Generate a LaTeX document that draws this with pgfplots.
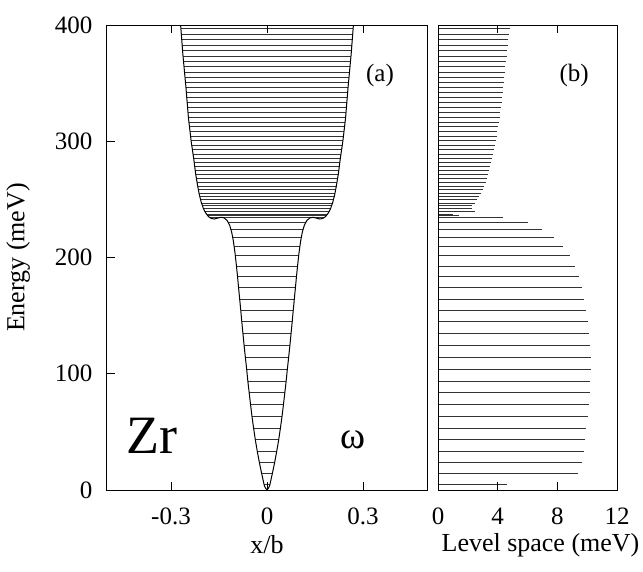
\documentclass[border=0pt]{standalone}
\usepackage{fontspec}
\setmainfont{Liberation Serif}
\usepackage{pgfplots}
\pgfplotsset{compat=1.18}
\usepackage{pgfplotstable}

\pgfplotstableread{
E s
4.64 4.64
14.04 9.40
23.66 9.62
33.42 9.76
43.29 9.87
53.22 9.93
63.26 10.04
73.37 10.11
83.55 10.18
93.77 10.22
104.01 10.24
114.25 10.24
124.45 10.20
134.58 10.13
144.62 10.04
154.53 9.91
164.33 9.80
173.97 9.64
183.41 9.44
192.57 9.16
201.41 8.84
209.77 8.36
217.53 7.76
224.51 6.98
230.53 6.02
234.89 4.36
236.29 1.40
237.31 1.02
239.82 2.51
242.13 2.31
244.44 2.31
246.95 2.51
249.59 2.64
252.35 2.76
255.26 2.91
258.28 3.02
261.39 3.11
264.59 3.20
267.88 3.29
271.24 3.36
274.64 3.40
278.11 3.47
281.69 3.58
285.33 3.64
289.04 3.71
292.80 3.76
296.62 3.82
300.49 3.87
304.42 3.93
308.40 3.98
312.42 4.02
316.49 4.07
320.62 4.13
324.80 4.18
329.02 4.22
333.29 4.27
337.60 4.31
341.93 4.33
346.31 4.38
350.71 4.40
355.15 4.44
359.64 4.49
364.15 4.51
368.71 4.56
373.31 4.60
377.95 4.64
382.62 4.67
387.31 4.69
392.04 4.73
396.84 4.80
}\levels

\pgfplotstableread{
x V
-0.5 440
-0.28 430
-0.270 400
-0.263 375
-0.2535 347
-0.2455 320
-0.237 300
-0.229 285
-0.223 272
-0.217 262
-0.2115 254
-0.206 248
-0.199 242.3
-0.192 238.5
-0.183 235.2
-0.174 233.6
-0.165 233.1
-0.153 234.0
-0.144 234.6
-0.135 234.2
-0.125 232
-0.117 228
-0.1105 222
-0.105 214
-0.100 204
-0.096 194
-0.0922 184
-0.0888 174
-0.0853 164
-0.0818 154
-0.0785 144
-0.0750 134
-0.0714 124
-0.0676 114
-0.0636 104
-0.0596 93
-0.0554 83
-0.0512 73
-0.0468 63
-0.0418 53
-0.0364 43
-0.0302 33
-0.0234 23
-0.0158 13
-0.0085 4
-0.005 1.8
0 0
0.005 1.8
0.0085 4
0.0158 13
0.0234 23
0.0302 33
0.0364 43
0.0418 53
0.0468 63
0.0512 73
0.0554 83
0.0596 93
0.0636 104
0.0676 114
0.0714 124
0.0750 134
0.0785 144
0.0818 154
0.0853 164
0.0888 174
0.0922 184
0.096 194
0.100 204
0.105 214
0.1105 222
0.117 228
0.125 232
0.135 234.2
0.144 234.6
0.153 234.0
0.165 233.1
0.174 233.6
0.183 235.2
0.192 238.5
0.199 242.3
0.206 248
0.2115 254
0.217 262
0.223 272
0.229 285
0.237 300
0.2455 320
0.2535 347
0.263 375
0.270 400
0.28 430
0.5 440
}\pot

\begin{document}
\begin{tikzpicture}
\useasboundingbox (0,0) rectangle (643pt,571pt);
\pgfplotsset{
  every axis/.append style={
    scale only axis, height=465pt, ymin=0, ymax=400,
    axis on top, tick align=inside, major tick length=8pt,
    axis line style={line width=1pt}, every tick/.style={black, line width=1pt},
    ticklabel style={font=\fontsize{25}{29}\selectfont},
    label style={font=\fontsize{26}{30}\selectfont, inner sep=0pt},
    xticklabel style={inner sep=0pt, yshift=-18pt},
    xlabel style={at={(axis description cs:0.5,0)}, anchor=center, yshift=-55pt},
    /pgf/number format/assume math mode=true,
    clip=true,
  }
}
\begin{axis}[at={(107pt,81pt)}, anchor=south west, width=320pt,
  xmin=-0.5, xmax=0.5, xtick={-0.3,0,0.3}, xticklabels={-0.3,0,0.3},
  ytick={0,100,200,300,400}, ytick pos=left, xtick pos=both, xticklabel pos=bottom,
  yticklabel style={xshift=-11pt},
  xlabel={x/b}, ylabel={Energy (meV)},
  ylabel style={at={(axis description cs:-0.278,0.5)}, anchor=center}]
  \addplot[xcomb, black!80, line width=0.8pt] table[x expr=0.3, y=E]{\levels};
  \addplot[xcomb, black!80, line width=0.8pt] table[x expr=-0.3, y=E]{\levels};
  \addplot[draw=none, fill=white] table[x=x, y=V]{\pot} \closedcycle;
  \addplot[black, line width=1pt, line join=round] table[x=x, y=V]{\pot};
  \node[font=\fontsize{25}{29}\selectfont] at (axis cs:0.353,357) {(a)};
  \node[font=\fontsize{54}{60}\selectfont] at (axis cs:-0.359,46.5) {Zr};
  \node[font=\fontsize{38}{40}\selectfont] at (axis cs:0.268,43) {ω};
\end{axis}
\begin{axis}[at={(438pt,81pt)}, anchor=south west, width=179pt,
  xmin=0, xmax=12, xtick={0,4,8,12}, ytick=\empty, xtick pos=both, xticklabel pos=bottom,
  xlabel={Level space (meV)}, xlabel style={xshift=13pt}]
  \addplot[xcomb, black!80, line width=0.8pt] table[x=s, y=E]{\levels};
  \node[font=\fontsize{25}{29}\selectfont] at (axis cs:9.13,357) {(b)};
\end{axis}
\end{tikzpicture}
\end{document}
